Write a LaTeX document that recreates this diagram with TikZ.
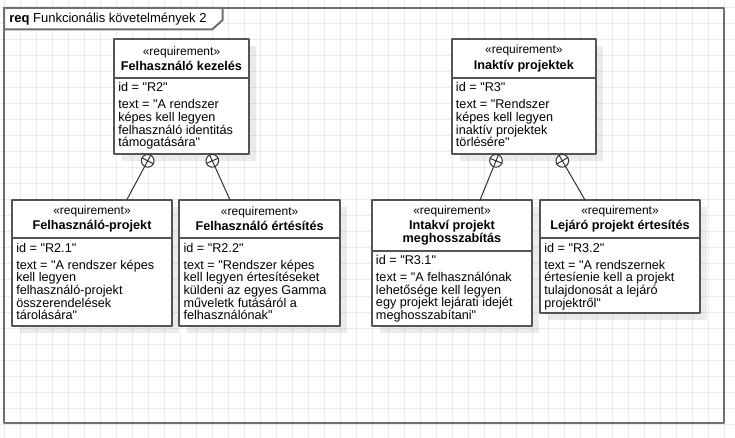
\documentclass[tikz,border=0pt]{standalone}
\usepackage{fontspec}
\setmainfont[Ligatures=TeXOff]{Liberation Sans}
\definecolor{gridgray}{RGB}{236,236,236}
\definecolor{framegray}{RGB}{112,112,112}
\definecolor{boxgray}{RGB}{85,85,85}
\tikzset{
  gridline/.style={draw=gridgray, line width=0.75pt},
  frameline/.style={draw=framegray, line width=1.5pt},
  reqnode/.style={draw=boxgray, line width=1.25pt, fill=white, inner sep=0pt},
  headtext/.style={inner sep=0pt, align=center, font=\fontsize{9.5}{9.3}\selectfont\bfseries},
  attrtext/.style={inner sep=0pt, align=left, font=\fontsize{9.5}{9.45}\selectfont},
  contain/.style={circle, draw=black!80, line width=0.75pt, fill=white, inner sep=0pt, minimum size=9.5pt},
  conn/.style={draw=black!80, line width=0.75pt},
}
% #1 name, #2 left, #3 top, #4 right, #5 separator, #6 bottom, #7 title, #8 id, #9 text
\newcommand{\reqbox}[9]{%
  \fill[black, opacity=0.08] (#2+8,#3+7) rectangle (#4+7,#6+7);
  \node[reqnode, minimum width={(#4-#2)*0.75pt}, minimum height={(#6-#3)*0.75pt}] (#1) at ({(#2+#4)/2},{(#3+#6)/2}) {};
  \draw[draw=boxgray, line width=1.25pt] (#2,#5) -- (#4,#5);
  \node[headtext] (#1h) at ({(#2+#4)/2},{(#3+#5)/2}) {{\fontsize{9}{9.3}\selectfont\mdseries «requirement»}\\[2pt]#7};
  \node[attrtext, anchor=north west] (#1a) at (#2+4,#5+4.5) {id = "#8"\\[3.3pt]text = "#9};
}
\begin{document}
\begin{tikzpicture}[x=0.75pt,y=-0.75pt,line join=round]
\useasboundingbox (0,0) rectangle (735,438);
\fill[white] (0,0) rectangle (735,438);
% grid
\foreach \gx in {4,20,...,735} \draw[gridline] (\gx,0) -- (\gx,438);
\foreach \gy in {8,24,...,438} \draw[gridline] (0,\gy) -- (735,\gy);
% frame
\draw[frameline] (4,8) rectangle (724,423);
\draw[frameline, fill=white] (4,8) -- (4,29.3) -- (212.3,29.3) -- (222.7,20) -- (222.7,8) -- cycle;
\node[anchor=base west, inner sep=0pt, font=\fontsize{9.75}{11}\selectfont] (tab) at (9,22.5) {\textbf{req} Funkcionális követelmények 2};
% requirements
\reqbox{r2}{114}{39}{249}{78}{154}{Felhasználó kezelés}{R2}{A rendszer\\képes kell legyen\\felhasználó identitás\\támogatására"}
\reqbox{r3}{451.7}{39}{596}{78}{154}{Inaktív projektek}{R3}{Rendszer\\képes kell legyen\\inaktív projektek\\törlésére"}
\reqbox{r21}{12}{200}{172}{238.3}{326}{Felhasználó-projekt}{R2.1}{A rendszer képes\\kell legyen\\felhasználó-projekt\\összerendelések\\tárolására"}
\reqbox{r22}{179.3}{200}{340}{238.3}{326}{Felhasználó értésítés}{R2.2}{Rendszer képes\\kell legyen értesítéseket\\küldeni az egyes Gamma\\műveletk futásáról a\\felhasználónak"}
\reqbox{r31}{371.7}{200}{532.3}{250.7}{326}{Intakví projekt\\meghosszabítás}{R3.1}{A felhasználónak\\lehetősége kell legyen\\egy projekt lejárati idejét\\meghosszabítani"}
\reqbox{r32}{540}{200}{700}{238.3}{313.3}{Lejáró projekt értesítés}{R3.2}{A rendszernek\\értesíenie kell a projekt\\tulajdonosát a lejáró\\projektről"}
% containment
\node[contain, anchor=north] (c21) at (147.7,154) {};
\node[contain, anchor=north] (c22) at (212.3,154) {};
\node[contain, anchor=north] (c31) at (496,154) {};
\node[contain, anchor=north] (c32) at (562.3,154) {};
\coordinate (e21) at (126.7,200);
\coordinate (e22) at (230,200);
\coordinate (e31) at (480,200);
\coordinate (e32) at (585,200);
\draw[conn] (c21) -- (e21);
\draw[conn] (c22) -- (e22);
\draw[conn] (c31) -- (e31);
\draw[conn] (c32) -- (e32);
\foreach \c/\a/\b/\d/\e in {c21/242/332/62/152, c22/294/24/114/204, c31/248/338/68/158, c32/300/30/120/210}
  \draw[conn] (\c.\a) -- (\c.\d) (\c.\b) -- (\c.\e);
\end{tikzpicture}
\end{document}
